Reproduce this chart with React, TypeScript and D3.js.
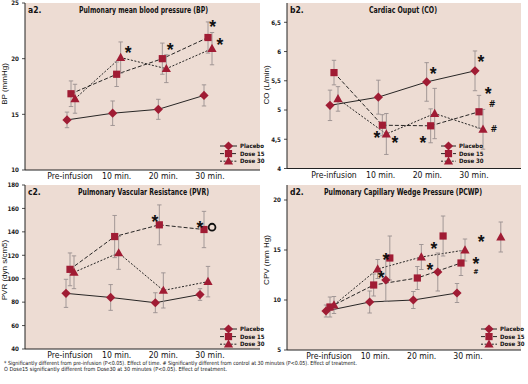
import React from "react";
import * as d3 from "d3";

// ---------- DATA ----------
const categories = ["Pre-infusion", "10 min.", "20 min.", "30 min."];
const seriesNames = ["Placebo", "Dose 15", "Dose 30"];

// a2. Pulmonary mean blood pressure (BP), mmHg
const bpPlacebo = [14.5, 15.1, 15.45, 16.7];
const bpPlaceboErr = [0.7, 1.1, 0.9, 0.95];
const bpDose15 = [16.85, 18.6, 20.0, 21.9];
const bpDose15Err = [1.15, 1.1, 1.4, 1.4];
const bpDose30 = [16.4, 20.1, 19.1, 20.9];
const bpDose30Err = [1.3, 1.4, 1.25, 1.45];
const bpTicks = [10, 15, 20, 25];
// annotations: [category position, value, symbol]
const bpNotes: [number, number, string][] = [
  [1.25, 20.9, "*"], [2.17, 21.2, "*"], [3.1, 23.2, "*"], [3.26, 21.6, "*"],
];

// b2. Cardiac Output (CO), L/min
const coPlacebo = [5.08, 5.22, 5.48, 5.67];
const coPlaceboErr = [0.26, 0.29, 0.33, 0.34];
const coDose15 = [5.64, 4.74, 4.73, 4.97];
const coDose15Err = [0.21, 0.18, 0.29, 0.28];
const coDose30 = [5.19, 4.59, 4.94, 4.67];
const coDose30Err = [0.21, 0.35, 0.43, 0.34];
const coTicks = [4, 4.5, 5, 5.5, 6, 6.5];
const coNotes: [number, number, string][] = [
  [0.89, 4.6, "*"], [1.26, 4.5, "*"], [1.84, 4.51, "*"], [2.05, 5.68, "*"],
  [3.04, 5.9, "*"], [3.19, 5.35, "*"], [3.27, 5.1, "#"], [3.31, 4.68, "#"],
];

// c2. Pulmonary Vascular Resistance (PVR), dyn s/cm5
const pvrPlacebo = [87.5, 84, 79.5, 86.5];
const pvrPlaceboErr = [12, 11, 8.5, 5];
const pvrDose15 = [108, 136, 146, 142];
const pvrDose15Err = [14, 18, 17, 15.5];
const pvrDose30 = [105.5, 122, 90, 97.5];
const pvrDose30Err = [14, 14, 15, 13];
const pvrTicks = [40, 60, 80, 100, 120, 140, 160, 180];
const pvrNotes: [number, number, string][] = [
  [1.9, 151.9, "*"], [2.91, 146.7, "*"], [3.18, 144, "O"],
];

// d2. Pulmonary Capillary Wedge Pressure (PCWP), mm Hg
const pcwpPlacebo = [8.9, 9.8, 10.0, 10.7];
const pcwpPlaceboErr = [0.6, 1.1, 0.85, 0.95];
const pcwpDose15 = [9.3, 11.5, 12.2, 13.7];
const pcwpDose15Err = [1.0, 1.1, 1.15, 1.25];
const pcwpDose30 = [9.5, 13.1, 14.3, 15.0];
const pcwpDose30Err = [0.85, 0.95, 1.25, 1.1];
// stray markers printed in the original panel: [position, value, error, series]
const pcwpExtra: [number, number, number, number][] = [
  [1.37, 12.0, 2.1, 0], [2.56, 12.8, 1.9, 0],
  [1.37, 14.2, 2.2, 1], [2.59, 16.4, 2.0, 1],
  [3.82, 16.3, 1.5, 2],
];
const pcwpTicks = [5, 10, 15, 20];
const pcwpNotes: [number, number, string][] = [
  [1.28, 14.4, "*"], [1.17, 12.6, "*"], [2.38, 15.5, "*"], [2.29, 13.4, "*"],
  [3.46, 16.2, "*"], [3.34, 14.0, "*"], [3.34, 12.9, "#s"],
];

const footnote1 =
  "* Significantly different from pre-infusion (P<0.05). Effect of time. # Significantly different from control at 30 minutes (P<0.05). Effect of treatment.";
const footnote2 =
  "O Dose15 significantly different from Dose30 at 30 minutes (P<0.05). Effect of treatment.";

// ---------- STYLE ----------
const RED = "#a01c34";
const BG = "#eddcd3";
const ERR = "#9a9090";
const NARROW = "'Liberation Sans Narrow', 'DejaVu Sans Condensed', 'Arial Narrow', sans-serif";
const SANS = "'Liberation Sans', Arial, sans-serif";
const DASH = ["none", "4,2", "2,1.6"];
const OFFS = [-4, 0, 4];

function Marker({ s, x, y }: { s: number; x: number; y: number }) {
  if (s === 0) {
    const r = 4.6;
    return <path d={`M${x},${y - r}L${x + r},${y}L${x},${y + r}L${x - r},${y}Z`} fill={RED} />;
  }
  if (s === 1) {
    return <rect x={x - 3.6} y={y - 3.6} width={7.2} height={7.2} fill={RED} />;
  }
  return <path d={`M${x},${y - 4.8}L${x + 4.6},${y + 3.4}L${x - 4.6},${y + 3.4}Z`} fill={RED} />;
}

type PanelCfg = {
  left: number; right: number; top: number; bottom: number;
  domain: [number, number]; ticks: number[]; fmt: (v: number) => string;
  title: string; titleW: number; tag: string; yLabel: string; yLabelY: number;
  pts: [number, number]; labs: [number, number];
  means: number[][]; errs: number[][];
  notes: [number, number, string][];
  extra?: [number, number, number, number][];
  legend: [number, number, number, number]; // x0, x1, textX, y0
};

function Panel({ c }: { c: PanelCfg }) {
  const y = d3.scaleLinear().domain(c.domain).range([c.bottom, c.top]);
  const xp = d3.scaleLinear().domain([0, 3]).range(c.pts);
  const xl = d3.scaleLinear().domain([0, 3]).range(c.labs);
  const line = d3
    .line<number>()
    .x((_, i) => xp(i))
    .y((d) => y(d));
  const midX = (c.left + c.right) / 2;
  return (
    <g>
      <rect x={c.left} y={c.top} width={c.right - c.left} height={c.bottom - c.top} fill={BG} />
      {/* axes */}
      <line x1={c.left} x2={c.left} y1={c.top} y2={c.bottom} stroke="#222" strokeWidth={1} />
      <line x1={c.left} x2={c.right} y1={c.bottom} y2={c.bottom} stroke="#222" strokeWidth={1} />
      {c.ticks.map((t) => (
        <g key={t}>
          <line x1={c.left - 3} x2={c.left} y1={y(t)} y2={y(t)} stroke="#222" strokeWidth={0.8} />
          <text x={c.left - 6} y={y(t) + 2.3} textAnchor="end" fontFamily={NARROW} fontSize={6.2} fontWeight="bold" fill="#222">
            {c.fmt(t)}
          </text>
        </g>
      ))}
      {categories.map((cat, i) => (
        <text key={cat} x={xl(i)} y={c.bottom + 9} textAnchor="middle" fontFamily={NARROW} fontSize={8.6} fill="#111">
          {cat}
        </text>
      ))}
      {/* title */}
      <text x={c.left + 3} y={c.top + 10} fontFamily={NARROW} fontSize={8.5} fontWeight="bold" fill="#111">
        {c.tag}
      </text>
      <text x={midX + (c.left < 100 ? 1 : -1)} y={c.top + 10} textAnchor="middle" fontFamily={NARROW} fontSize={8.5} fontWeight="bold" fill="#111" textLength={c.titleW} lengthAdjust="spacingAndGlyphs">
        {c.title}
      </text>
      {/* y label */}
      <text transform={`translate(${c.left - 18.5},${c.yLabelY}) rotate(-90)`} textAnchor="middle" fontFamily={SANS} fontSize={8} fill="#111">
        {c.yLabel}
      </text>
      {/* lines */}
      {c.means.map((m, s) => (
        <path key={s} d={line(m) || ""} transform={`translate(${OFFS[s]},0)`} fill="none" stroke="#111" strokeWidth={0.9} strokeDasharray={DASH[s]} />
      ))}
      {/* error bars */}
      {c.means.map((m, s) =>
        m.map((v, i) => {
          const x = xp(i) + OFFS[s];
          const e = c.errs[s][i];
          return (
            <g key={`e${s}-${i}`} stroke={ERR} strokeWidth={0.9}>
              <line x1={x} x2={x} y1={y(v + e)} y2={y(v - e)} />
              <line x1={x - 2.2} x2={x + 2.2} y1={y(v + e)} y2={y(v + e)} />
              <line x1={x - 2.2} x2={x + 2.2} y1={y(v - e)} y2={y(v - e)} />
            </g>
          );
        })
      )}
      {(c.extra || []).map(([p, v, e, s], k) => {
        const x = xp(p) + OFFS[s];
        return (
          <g key={`x${k}`} stroke={ERR} strokeWidth={0.9}>
            <line x1={x} x2={x} y1={y(v + e)} y2={y(v - e)} />
            <line x1={x - 2.2} x2={x + 2.2} y1={y(v + e)} y2={y(v + e)} />
            <line x1={x - 2.2} x2={x + 2.2} y1={y(v - e)} y2={y(v - e)} />
          </g>
        );
      })}
      {/* markers */}
      {c.means.map((m, s) =>
        m.map((v, i) => <Marker key={`m${s}-${i}`} s={s} x={xp(i) + OFFS[s]} y={y(v)} />)
      )}
      {(c.extra || []).map(([p, v, , s], k) => (
        <Marker key={`xm${k}`} s={s} x={xp(p) + OFFS[s]} y={y(v)} />
      ))}
      {/* annotations */}
      {c.notes.map(([p, v, t], k) => {
        const x = xp(p);
        const yy = y(v);
        if (t === "*")
          return (
            <text key={k} x={x} y={yy + 10.2} textAnchor="middle" fontFamily={SANS} fontWeight="bold" fontSize={17.5} fill="#111">*</text>
          );
        if (t === "O")
          return (
            <circle key={k} cx={x} cy={yy} r={3.4} fill="none" stroke="#111" strokeWidth={1.8} />
          );
        const fs = t === "#s" ? 7 : 9;
        return (
          <text key={k} x={x} y={yy + fs * 0.36} textAnchor="middle" fontFamily={NARROW} fontWeight="bold" fontSize={fs} fill="#111">#</text>
        );
      })}
      {/* legend */}
      {seriesNames.map((n, s) => {
        const [x0, x1, tx, ly0] = c.legend;
        const ly = ly0 + s * 7.6;
        return (
          <g key={n}>
            <line x1={x0} x2={x1} y1={ly} y2={ly} stroke="#111" strokeWidth={0.9} strokeDasharray={DASH[s]} />
            <Marker s={s} x={(x0 + x1) / 2} y={ly} />
            <text x={tx} y={ly + 2.2} fontFamily={NARROW} fontWeight="bold" fontSize={6} fill="#111">{n}</text>
          </g>
        );
      })}
    </g>
  );
}

const fmtInt = (v: number) => String(v);
const fmtComma = (v: number) => String(v).replace(".", ",");

export default function App() {
  const panels: PanelCfg[] = [
    {
      left: 25, right: 260, top: 3, bottom: 170, domain: [10, 25], ticks: bpTicks, fmt: fmtInt,
      title: "Pulmonary mean blood pressure (BP)", titleW: 129, tag: "a2.", yLabel: "BP (mmHg)", yLabelY: 84,
      pts: [71, 208], labs: [70, 210],
      means: [bpPlacebo, bpDose15, bpDose30], errs: [bpPlaceboErr, bpDose15Err, bpDose30Err],
      notes: bpNotes, legend: [220, 237, 240, 146],
    },
    {
      left: 287, right: 521, top: 3, bottom: 168.5, domain: [4, 6.83], ticks: coTicks, fmt: fmtComma,
      title: "Cardiac Ouput (CO)", titleW: 68, tag: "b2.", yLabel: "CO (L/min)", yLabelY: 85,
      pts: [334, 479], labs: [334, 474],
      means: [coPlacebo, coDose15, coDose30], errs: [coPlaceboErr, coDose15Err, coDose30Err],
      notes: coNotes, legend: [441, 456, 459, 146],
    },
    {
      left: 25, right: 260, top: 185, bottom: 349, domain: [40, 180], ticks: pvrTicks, fmt: fmtInt,
      title: "Pulmonary Vascular Resistance (PVR)", titleW: 131, tag: "c2.", yLabel: "PVR (dyn s/cm5)", yLabelY: 270,
      pts: [70, 204], labs: [70, 210],
      means: [pvrPlacebo, pvrDose15, pvrDose30], errs: [pvrPlaceboErr, pvrDose15Err, pvrDose30Err],
      notes: pvrNotes, legend: [220, 237, 240, 329],
    },
    {
      left: 287, right: 521, top: 185, bottom: 350, domain: [5, 21.5], ticks: pcwpTicks, fmt: fmtInt,
      title: "Pulmonary Capillary Wedge Pressure (PCWP)", titleW: 158, tag: "d2.", yLabel: "CPV (mm Hg)", yLabelY: 260,
      pts: [330, 461], labs: [329, 468],
      means: [pcwpPlacebo, pcwpDose15, pcwpDose30], errs: [pcwpPlaceboErr, pcwpDose15Err, pcwpDose30Err],
      notes: pcwpNotes, extra: pcwpExtra, legend: [481, 497, 500, 329],
    },
  ];
  return (
    <svg width={528} height={384} style={{ position: "absolute", left: 0, top: 0, background: "#fff" }}>
      <rect width={528} height={384} fill="#fff" />
      {panels.map((p, i) => (
        <Panel key={i} c={p} />
      ))}
      <text x={4} y={365} fontFamily={NARROW} fontSize={5.6} fill="#111" textLength={353} lengthAdjust="spacingAndGlyphs">
        {footnote1}
      </text>
      <text x={4} y={371} fontFamily={NARROW} fontSize={5.6} fill="#111" textLength={223} lengthAdjust="spacingAndGlyphs">
        {footnote2}
      </text>
    </svg>
  );
}
